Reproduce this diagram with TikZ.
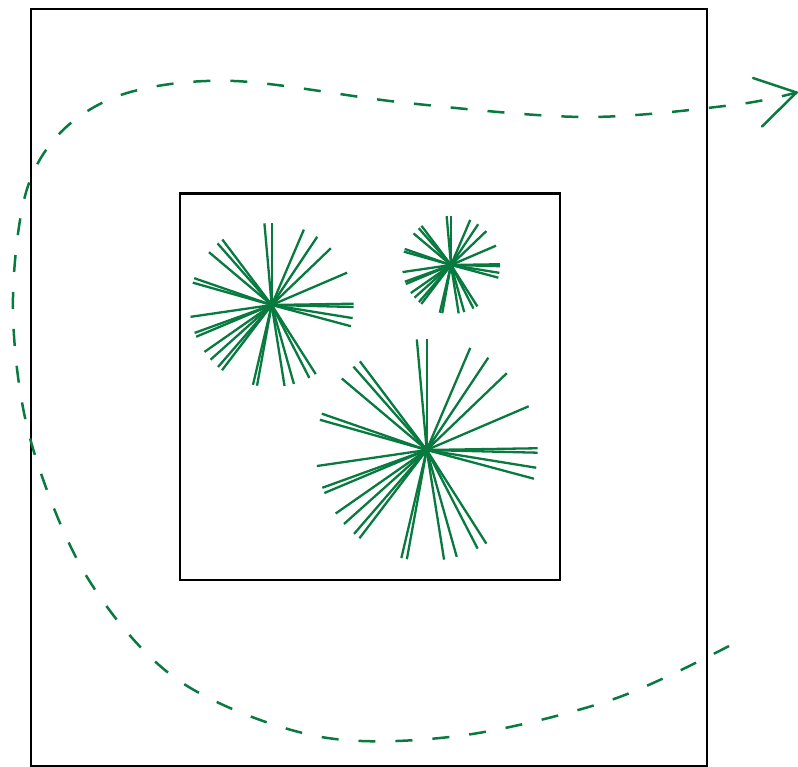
\documentclass[tikz,border=0pt]{standalone}
\definecolor{pathgreen}{RGB}{8,122,64}
\tikzset{
  frame/.style={draw=black, line width=2.4pt},
  ray/.style={draw=pathgreen, line width=2.3pt},
  route/.style={draw=pathgreen, line width=2.5pt, dash pattern=on 17pt off 20pt},
  arrowarm/.style={draw=pathgreen, line width=2.5pt, line cap=round},
}
\begin{document}
\begin{tikzpicture}[x=1pt,y=-1pt]
\useasboundingbox (0,0) rectangle (798,767);
% frames
\draw[frame] (31,9) rectangle (707,766);
\draw[frame] (180,193.5) rectangle (560,580);
% starburst centres
\coordinate (big) at (426.7,450);
\coordinate (mid) at (271.7,305);
\coordinate (small) at (451,265);
% rays (unitless radius uses the flipped y axis, hence negated angles)
\foreach \a in {95.1,90,66.9,56.3,43.8,23.2,0.9,-1.4,-9.2,-15.0,-57.5,-62.7,-74.3,-81.0,
                  259.7,256.8,232.7,229.1,221.8,214.9,202.8,199.9,188.3,164.2,160.9,139.9,131.3,127.0}{
  \draw[ray] (big) -- ++(-\a:111);
  \draw[ray] (mid) -- ++(-\a:82);
  \draw[ray] (small) -- ++(-\a:49);
}
% dashed route
\coordinate (start) at (729,646);
\coordinate (tip) at (796.5,92.5);
\draw[route] plot[smooth, tension=0.55] coordinates {
  (729,646) (611,700) (458,736) (316,736) (178,680) (87,577)
  (30.5,440) (13,313) (25,196) (61,132) (127,93) (234,81) (407,103) (585,117) (733,105) (796.5,92.5)};
% open arrowhead
\coordinate (armA) at (753,78);
\coordinate (armB) at (762,126.5);
\draw[arrowarm] (armA) -- (tip) -- (armB);
\end{tikzpicture}
\end{document}
